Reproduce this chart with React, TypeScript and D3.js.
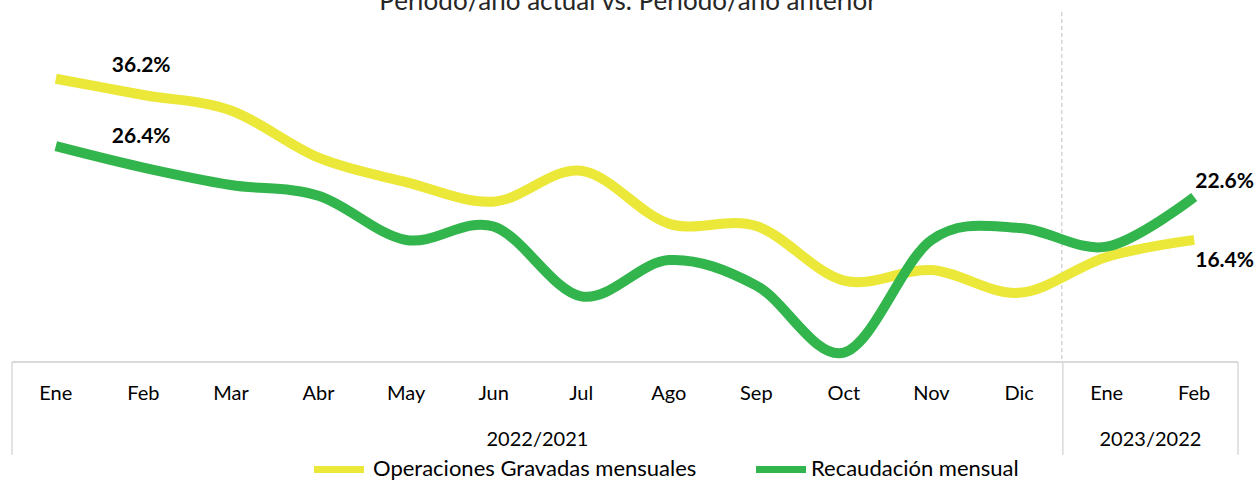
import React from "react";
import * as d3 from "d3";

const title = "Período/año actual vs. Período/año anterior";
const categories = ["Ene", "Feb", "Mar", "Abr", "May", "Jun", "Jul", "Ago", "Sep", "Oct", "Nov", "Dic", "Ene", "Feb"];
const groupLabels = ["2022/2021", "2023/2022"];
const groupSizes = [12, 2];
const seriesNames = ["Operaciones Gravadas mensuales", "Recaudación mensual"];
const operaciones = [36.2, 34.2, 32.3, 26.5, 23.5, 21.1, 24.9, 18.4, 18.1, 11.4, 12.7, 9.9, 14.3, 16.4];
const recaudacion = [26.4, 24.8, 23.5, 22.7, 19.4, 20.4, 15.2, 17.9, 16.0, 11.0, 19.4, 20.3, 18.9, 22.6];
const leftDomain = [1.4, 44.4];
const rightDomain = [10.3, 36.4];

const W = 1256;
const H = 481;
const plotLeft = 12;
const plotRight = 1238;
const plotTop = 12;
const plotBottom = 362;
const axisBottom = 455;
const YELLOW = "#EBE83A";
const GREEN = "#33B54D";
const FONT = "Lato, 'Open Sans', sans-serif";

export default function App() {
  const idx = categories.map((_, i) => i);
  const x = d3.scaleBand<number>().domain(idx).range([plotLeft, plotRight]).padding(0);
  const cx = (i: number) => (x(i) as number) + x.bandwidth() / 2;
  const yL = d3.scaleLinear().domain(leftDomain).range([plotBottom, plotTop]);
  const yR = d3.scaleLinear().domain(rightDomain).range([plotBottom, plotTop]);

  const lineL = d3.line<number>().x((_, i) => cx(i)).y((d) => yL(d)).curve(d3.curveCardinal.tension(0));
  const lineR = d3.line<number>().x((_, i) => cx(i)).y((d) => yR(d)).curve(d3.curveCardinal.tension(0));

  const bounds: number[] = [];
  let acc = 0;
  groupSizes.forEach((s) => {
    bounds.push(acc);
    acc += s;
  });
  const sepX = x(groupSizes[0]) as number;

  const last = categories.length - 1;
  const fmt = (v: number) => `${v.toFixed(1)}%`;

  return (
    <svg
      width={W}
      height={H}
      style={{ position: "absolute", left: 0, top: 0, background: "#fff" }}
      fontFamily={FONT}
    >
      <rect x={0} y={0} width={W} height={H} fill="#fff" />
      <text x={628} y={10} textAnchor="middle" fontSize={26} fill="#262626">
        {title}
      </text>

      <line x1={sepX - 1} x2={sepX - 1} y1={plotTop} y2={plotBottom} stroke="#BFBFBF" strokeWidth={1} strokeDasharray="4,3" />

      <line x1={plotLeft} x2={plotRight} y1={plotBottom} y2={plotBottom} stroke="#D9D9D9" strokeWidth={2} />
      {bounds.map((b, i) => (
        <line key={"b" + i} x1={x(b) as number} x2={x(b) as number} y1={plotBottom} y2={axisBottom} stroke="#D9D9D9" strokeWidth={1.5} />
      ))}
      <line x1={plotRight} x2={plotRight} y1={plotBottom} y2={axisBottom} stroke="#D9D9D9" strokeWidth={1.5} />

      {categories.map((c, i) => (
        <text key={"c" + i} x={cx(i)} y={400} textAnchor="middle" fontSize={20} fill="#000">
          {c}
        </text>
      ))}
      {groupLabels.map((g, gi) => {
        const start = x(bounds[gi]) as number;
        const end = gi + 1 < bounds.length ? (x(bounds[gi + 1]) as number) : plotRight;
        return (
          <text key={"g" + gi} x={(start + end) / 2} y={446} textAnchor="middle" fontSize={20} fill="#000">
            {g}
          </text>
        );
      })}

      <path d={lineL(operaciones) || ""} fill="none" stroke={YELLOW} strokeWidth={10} />
      <path d={lineR(recaudacion) || ""} fill="none" stroke={GREEN} strokeWidth={10} />

      <g fontWeight="bold" fontSize={21} fill="#000">
        <text x={cx(0) + 56} y={yL(operaciones[0]) - 7}>{fmt(operaciones[0])}</text>
        <text x={cx(0) + 56} y={yR(recaudacion[0]) - 3}>{fmt(recaudacion[0])}</text>
        <text x={cx(last) + 1} y={yR(recaudacion[last]) - 9}>{fmt(recaudacion[last])}</text>
        <text x={cx(last) + 1} y={yL(operaciones[last]) + 27}>{fmt(operaciones[last])}</text>
      </g>

      <rect x={314} y={466} width={50} height={7} fill={YELLOW} />
      <text x={373} y={476} fontSize={22} fill="#000">{seriesNames[0]}</text>
      <rect x={756} y={466} width={50} height={7} fill={GREEN} />
      <text x={811} y={476} fontSize={22} fill="#000">{seriesNames[1]}</text>
    </svg>
  );
}
